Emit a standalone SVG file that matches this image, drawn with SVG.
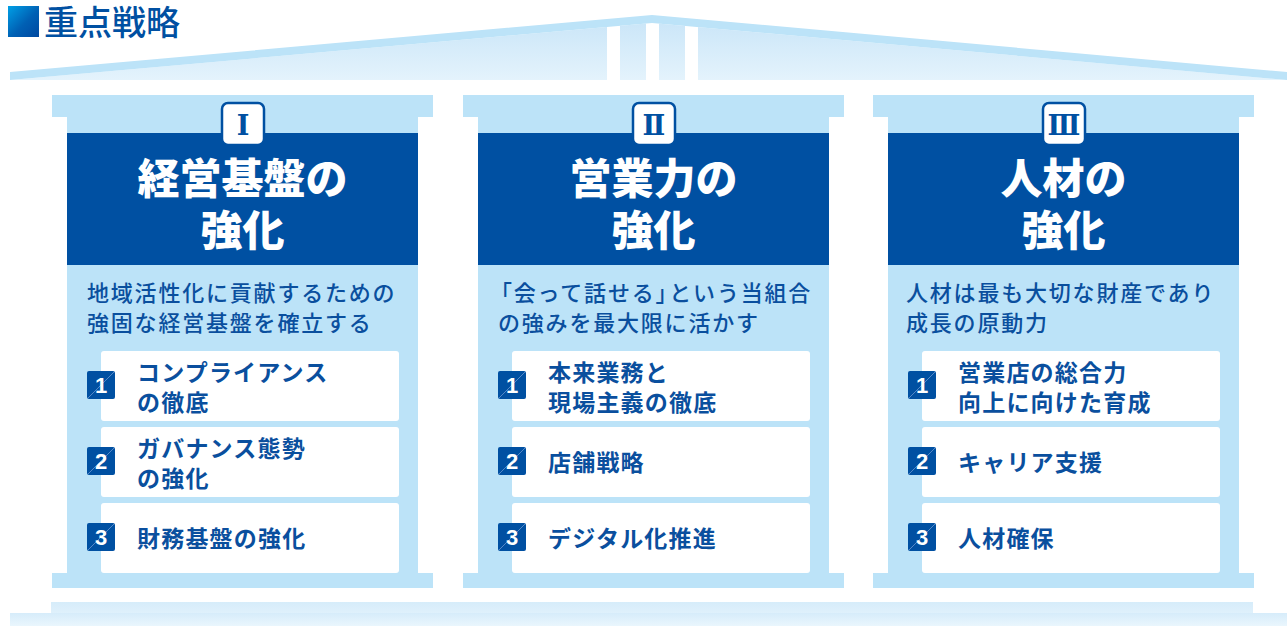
<svg xmlns="http://www.w3.org/2000/svg" width="1287" height="626" viewBox="0 0 1287 626">
<defs>
<linearGradient id="gSq" x1="0" y1="0" x2="1" y2="1">
<stop offset="0" stop-color="#00a0e6"/>
<stop offset="0.55" stop-color="#0060b4"/>
<stop offset="1" stop-color="#0048a0"/>
</linearGradient>
<linearGradient id="gRoof" x1="0" y1="0" x2="0" y2="1">
<stop offset="0" stop-color="#cbe6f8"/>
<stop offset="1" stop-color="#e4f3fc"/>
</linearGradient>
<linearGradient id="gBase" x1="0" y1="0" x2="0" y2="1">
<stop offset="0" stop-color="#d6ecfa"/>
<stop offset="1" stop-color="#eaf6fd"/>
</linearGradient>
<style>
.lb{fill:#bce3f8}
.hd{fill:#0050a2}
.bd{fill:#ffffff;stroke:#0050a2;stroke-width:2.5}
.rn{font-family:"DejaVu Serif","Liberation Serif",serif;font-weight:700;font-size:27px;fill:#0050a2;text-anchor:middle}
.tt{font-family:"Noto Sans CJK JP","Noto Sans CJK SC",sans-serif;font-weight:900;font-size:42px;fill:#ffffff;text-anchor:middle}
.st{font-family:"Noto Sans CJK JP","Noto Sans CJK SC",sans-serif;font-weight:500;font-size:22px;letter-spacing:1.8px;fill:#0a4f9e}
.bx{fill:#ffffff}
.nb{fill:#0050a2}
.nl{stroke:#5d8fcc;stroke-width:0.9}
.nt{font-family:"Liberation Sans",Arial,sans-serif;font-weight:700;font-size:22px;fill:#ffffff;text-anchor:middle}
.it{font-family:"Noto Sans CJK JP","Noto Sans CJK SC",sans-serif;font-weight:700;font-size:23px;letter-spacing:1.2px;fill:#0a4f9e}
.ttl{font-family:"Noto Sans CJK JP","Noto Sans CJK SC",sans-serif;font-weight:500;font-size:34px;fill:#0050a2}
</style>
</defs>
<rect width="1287" height="626" fill="#ffffff"/>

<g id="heading">
<rect x="8" y="6" width="31" height="31" fill="url(#gSq)"/>
<text class="ttl" x="44" y="35">重点戦略</text>
</g>

<g id="roof">
<polygon points="10,80 652,23 1287,80" fill="url(#gRoof)"/>
<rect x="607" y="18" width="13" height="62" fill="#ffffff"/>
<rect x="646" y="18" width="13" height="62" fill="#ffffff"/>
<rect x="685" y="18" width="13" height="62" fill="#ffffff"/>
<polygon class="lb" points="10,72 652,15 1287,72 1287,80 652,23 10,80"/>
</g>

<g id="platform">
<rect x="51" y="602" width="1202" height="24" fill="url(#gBase)"/>
<rect x="10" y="613" width="1277" height="13" fill="url(#gBase)"/>
</g>

<g id="pillar-1">
<rect class="lb" x="52" y="95" width="381" height="22"/>
<rect class="lb" x="67" y="117" width="351" height="456"/>
<rect class="lb" x="52" y="573" width="381" height="15"/>
<rect class="hd" x="67" y="133" width="351" height="132"/>
<rect class="bd" x="222" y="103" width="42" height="42" rx="6"/>
<text class="rn" x="243" y="135">Ⅰ</text>
<text class="tt" x="242.5" y="193.5">経営基盤の</text>
<text class="tt" x="242.5" y="245.5">強化</text>
<text class="st" x="87" y="301">地域活性化に貢献するための</text>
<text class="st" x="87" y="331">強固な経営基盤を確立する</text>
<rect class="bx" x="101" y="351" width="298" height="70" rx="3"/>
<rect class="bx" x="101" y="427" width="298" height="70" rx="3"/>
<rect class="bx" x="101" y="503" width="298" height="70" rx="3"/>
<rect class="nb" x="87" y="371" width="28" height="28" rx="2"/>
<line class="nl" x1="88" y1="398" x2="114" y2="372"/>
<text class="nt" x="101" y="393">1</text>
<rect class="nb" x="87" y="447" width="28" height="28" rx="2"/>
<line class="nl" x1="88" y1="474" x2="114" y2="448"/>
<text class="nt" x="101" y="469">2</text>
<rect class="nb" x="87" y="523" width="28" height="28" rx="2"/>
<line class="nl" x1="88" y1="550" x2="114" y2="524"/>
<text class="nt" x="101" y="545">3</text>
<text class="it" x="137" y="380.5">コンプライアンス</text>
<text class="it" x="137" y="410.5">の徹底</text>
<text class="it" x="137" y="456.5">ガバナンス態勢</text>
<text class="it" x="137" y="486.5">の強化</text>
<text class="it" x="137" y="546.5">財務基盤の強化</text>
</g>

<g id="pillar-2" transform="translate(411,0)">
<rect class="lb" x="52" y="95" width="381" height="22"/>
<rect class="lb" x="67" y="117" width="351" height="456"/>
<rect class="lb" x="52" y="573" width="381" height="15"/>
<rect class="hd" x="67" y="133" width="351" height="132"/>
<rect class="bd" x="222" y="103" width="42" height="42" rx="6"/>
<text class="rn" x="243" y="135">Ⅱ</text>
<text class="tt" x="242.5" y="193.5">営業力の</text>
<text class="tt" x="242.5" y="245.5">強化</text>
<text class="st" x="79" y="301">「会って話せる」<tspan dx="-10">という当組合</tspan></text>
<text class="st" x="87" y="331">の強みを最大限に活かす</text>
<rect class="bx" x="101" y="351" width="298" height="70" rx="3"/>
<rect class="bx" x="101" y="427" width="298" height="70" rx="3"/>
<rect class="bx" x="101" y="503" width="298" height="70" rx="3"/>
<rect class="nb" x="87" y="371" width="28" height="28" rx="2"/>
<line class="nl" x1="88" y1="398" x2="114" y2="372"/>
<text class="nt" x="101" y="393">1</text>
<rect class="nb" x="87" y="447" width="28" height="28" rx="2"/>
<line class="nl" x1="88" y1="474" x2="114" y2="448"/>
<text class="nt" x="101" y="469">2</text>
<rect class="nb" x="87" y="523" width="28" height="28" rx="2"/>
<line class="nl" x1="88" y1="550" x2="114" y2="524"/>
<text class="nt" x="101" y="545">3</text>
<text class="it" x="137" y="380.5">本来業務と</text>
<text class="it" x="137" y="410.5">現場主義の徹底</text>
<text class="it" x="137" y="470.5">店舗戦略</text>
<text class="it" x="137" y="546.5">デジタル化推進</text>
</g>

<g id="pillar-3" transform="translate(821,0)">
<rect class="lb" x="52" y="95" width="381" height="22"/>
<rect class="lb" x="67" y="117" width="351" height="456"/>
<rect class="lb" x="52" y="573" width="381" height="15"/>
<rect class="hd" x="67" y="133" width="351" height="132"/>
<rect class="bd" x="222" y="103" width="42" height="42" rx="6"/>
<text class="rn" x="243" y="135">Ⅲ</text>
<text class="tt" x="242.5" y="193.5">人材の</text>
<text class="tt" x="242.5" y="245.5">強化</text>
<text class="st" x="85" y="301">人材は最も大切な財産であり</text>
<text class="st" x="85" y="331">成長の原動力</text>
<rect class="bx" x="101" y="351" width="298" height="70" rx="3"/>
<rect class="bx" x="101" y="427" width="298" height="70" rx="3"/>
<rect class="bx" x="101" y="503" width="298" height="70" rx="3"/>
<rect class="nb" x="87" y="371" width="28" height="28" rx="2"/>
<line class="nl" x1="88" y1="398" x2="114" y2="372"/>
<text class="nt" x="101" y="393">1</text>
<rect class="nb" x="87" y="447" width="28" height="28" rx="2"/>
<line class="nl" x1="88" y1="474" x2="114" y2="448"/>
<text class="nt" x="101" y="469">2</text>
<rect class="nb" x="87" y="523" width="28" height="28" rx="2"/>
<line class="nl" x1="88" y1="550" x2="114" y2="524"/>
<text class="nt" x="101" y="545">3</text>
<text class="it" x="137" y="380.5">営業店の総合力</text>
<text class="it" x="137" y="410.5">向上に向けた育成</text>
<text class="it" x="137" y="470.5">キャリア支援</text>
<text class="it" x="137" y="546.5">人材確保</text>
</g>
</svg>
